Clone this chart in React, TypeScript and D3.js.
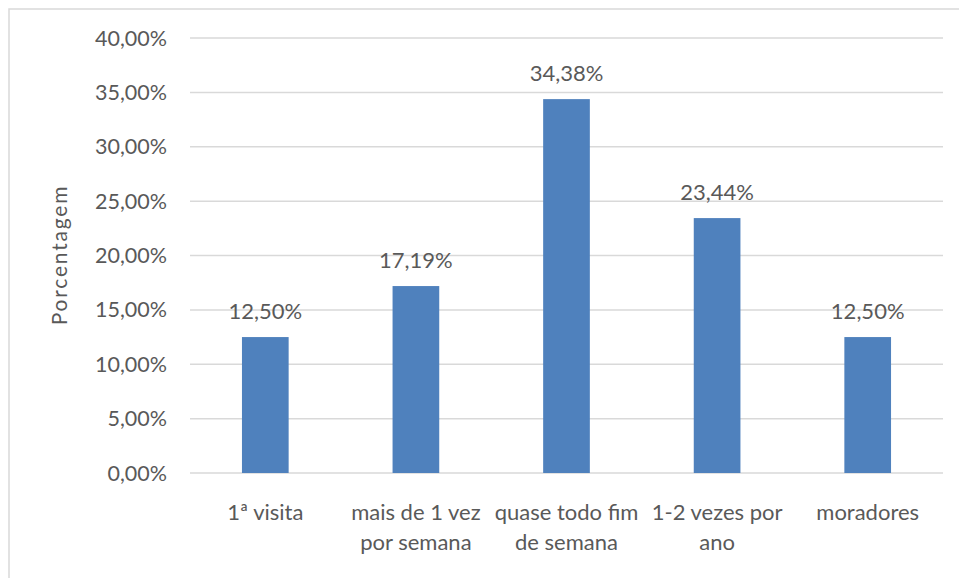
import React from "react";
import * as d3 from "d3";

// Frequency of visits, percent of respondents
const categories: string[][] = [
  ["1ª visita"],
  ["mais de 1 vez", "por semana"],
  ["quase todo fim", "de semana"],
  ["1-2 vezes por", "ano"],
  ["moradores"],
];
const values: number[] = [12.5, 17.19, 34.38, 23.44, 12.5];
const yTicks: number[] = [0, 5, 10, 15, 20, 25, 30, 35, 40];

const W = 959;
const H = 578;
const plot = { left: 190, right: 943, top: 38, bottom: 473 };
const FONT = "Lato, 'Open Sans', sans-serif";
const TEXT = "#595959";
const GRID = "#d9d9d9";
const BAR = "#4f81bd";

const fmt = (v: number) => v.toFixed(2).replace(".", ",") + "%";

export default function App() {
  const keys = categories.map((c) => c.join(" "));
  const x = d3
    .scaleBand<string>()
    .domain(keys)
    .range([plot.left, plot.right])
    .paddingInner(0.69)
    .paddingOuter(0.345);
  const y = d3.scaleLinear().domain([0, 40]).range([plot.bottom, plot.top]);

  return (
    <svg
      width={W}
      height={H}
      style={{ position: "absolute", left: 0, top: 0, background: "#fff" }}
      fontFamily={FONT}
    >
      {/* chart frame */}
      <rect x={9} y={9} width={W + 20} height={H + 20} fill="#fff" stroke={GRID} strokeWidth={1.5} />

      {/* gridlines and y tick labels */}
      {yTicks.map((t) => (
        <g key={t}>
          <line x1={plot.left} x2={plot.right} y1={y(t)} y2={y(t)} stroke={GRID} strokeWidth={1.5} />
          <text x={167} y={y(t)} dy="0.35em" textAnchor="end" fontSize={21.5} fill={TEXT}>
            {fmt(t)}
          </text>
        </g>
      ))}

      {/* y axis title */}
      <text
        transform={`translate(67, 255) rotate(-90)`}
        textAnchor="middle"
        fontSize={21}
        letterSpacing={1.8}
        fill={TEXT}
      >
        Porcentagem
      </text>

      {/* bars with value labels */}
      {values.map((v, i) => {
        const k = keys[i];
        const bx = x(k)!;
        return (
          <g key={k}>
            <rect x={bx} y={y(v)} width={x.bandwidth()} height={y(0) - y(v)} fill={BAR} />
            <text
              x={bx + x.bandwidth() / 2}
              y={y(v) - 18}
              textAnchor="middle"
              fontSize={22}
              fill={TEXT}
            >
              {fmt(v)}
            </text>
          </g>
        );
      })}

      {/* category labels */}
      {categories.map((lines, i) => {
        const cx = x(keys[i])! + x.bandwidth() / 2;
        return (
          <text key={keys[i]} textAnchor="middle" fontSize={22} fill={TEXT}>
            {lines.map((ln, j) => (
              <tspan key={j} x={cx} y={520 + j * 30}>
                {ln}
              </tspan>
            ))}
          </text>
        );
      })}
    </svg>
  );
}
